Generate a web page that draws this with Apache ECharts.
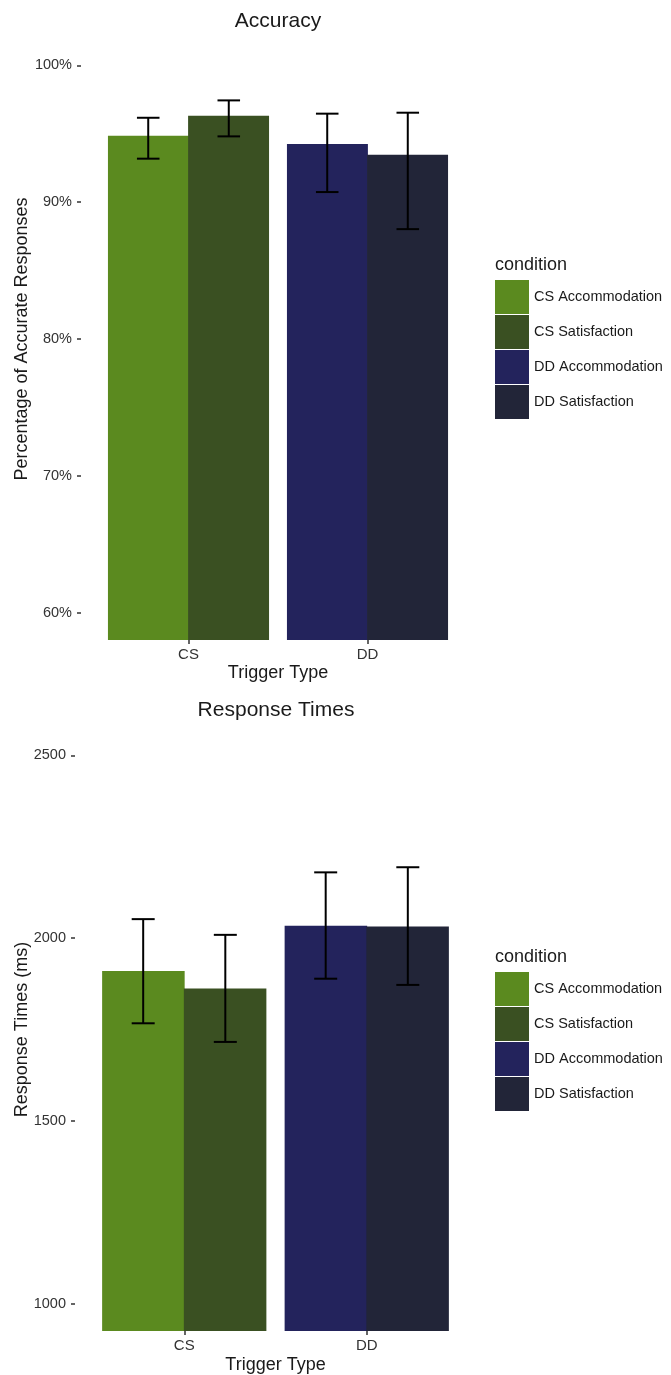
<!DOCTYPE html>
<html>
<head>
<meta charset="utf-8">
<script src="https://cdn.jsdelivr.net/npm/echarts@6/dist/echarts.min.js"></script>
<style>
html,body{margin:0;padding:0;background:#fff;}
#main{width:671px;height:1375px;}
</style>
</head>
<body>
<div id="main"></div>
<script>
const categories = ['CS', 'DD'];
const conditions = ['CS Accommodation', 'CS Satisfaction', 'DD Accommodation', 'DD Satisfaction'];
const conditionCategory = [0, 0, 1, 1];
const conditionSlot = [0, 1, 0, 1];
const colors = ['#5b8a1f', '#3a5022', '#23235c', '#222538'];

const accMean = [94.86, 96.32, 94.25, 93.47];
const accLow = [93.18, 94.81, 90.74, 88.03];
const accHigh = [96.17, 97.44, 96.47, 96.54];
const accTicks = [60, 70, 80, 90, 100];

const rtMean = [1910, 1862, 2034, 2032];
const rtLow = [1767, 1716, 1889, 1872];
const rtHigh = [2052, 2009, 2180, 2194];
const rtTicks = [1000, 1500, 2000, 2500];

const FONT = '"Liberation Sans", Arial, sans-serif';
const TXT = '#1a1a1a';

function barSeries(g, means) {
  return conditions.map((name, i) => ({
    type: 'bar',
    name: name,
    xAxisIndex: g,
    yAxisIndex: g,
    stack: 'g' + g + 's' + conditionSlot[i],
    barGap: '-1%',
    barCategoryGap: '10%',
    itemStyle: { color: colors[i] },
    emphasis: { disabled: true },
    data: categories.map((c, j) => (j === conditionCategory[i] ? means[i] : '-'))
  }));
}

function errSeries(g, low, high) {
  return {
    type: 'custom',
    name: 'err' + g,
    xAxisIndex: g,
    yAxisIndex: g,
    z: 10,
    silent: true,
    encode: { x: 0, y: [1, 2] },
    data: conditions.map((c, i) => [conditionCategory[i], low[i], high[i], conditionSlot[i]]),
    renderItem: function (params, api) {
      const lo = api.coord([api.value(0), api.value(1)]);
      const hi = api.coord([api.value(0), api.value(2)]);
      const band = api.size([1, 0])[0];
      const x = lo[0] + (api.value(3) === 0 ? -1 : 1) * band * 0.225;
      const hw = band * 0.063;
      const st = { stroke: '#000', lineWidth: 2, fill: null };
      return {
        type: 'group',
        children: [
          { type: 'line', shape: { x1: x, y1: lo[1], x2: x, y2: hi[1] }, style: st },
          { type: 'line', shape: { x1: x - hw, y1: hi[1], x2: x + hw, y2: hi[1] }, style: st },
          { type: 'line', shape: { x1: x - hw, y1: lo[1], x2: x + hw, y2: lo[1] }, style: st }
        ]
      };
    }
  };
}

function xAxis(g, nameGap) {
  return {
    type: 'category',
    gridIndex: g,
    data: categories,
    name: 'Trigger Type',
    nameLocation: 'middle',
    nameGap: nameGap,
    nameTextStyle: { fontFamily: FONT, fontSize: 18, color: TXT },
    axisLine: { show: false },
    axisTick: { show: true, alignWithLabel: true, length: 4, lineStyle: { color: '#333', width: 1.5 } },
    axisLabel: { margin: 7, fontFamily: FONT, fontSize: 15, color: '#333' },
    splitLine: { show: false }
  };
}

function yAxis(g, min, max, ticks, name, nameGap, fmt) {
  return {
    type: 'value',
    gridIndex: g,
    min: min,
    max: max,
    offset: 18,
    name: name,
    nameLocation: 'middle',
    nameGap: nameGap,
    nameMoveOverlap: false,
    nameTextStyle: { fontFamily: FONT, fontSize: 18, color: TXT },
    axisLine: { show: false },
    axisTick: { show: true, length: 4, customValues: ticks, lineStyle: { color: '#333', width: 1.5 } },
    axisLabel: { margin: 9, fontFamily: FONT, fontSize: 14.5, color: '#333', customValues: ticks, formatter: fmt },
    splitLine: { show: false }
  };
}

function legend(top) {
  return {
    orient: 'vertical',
    left: 495,
    top: top,
    padding: 0,
    itemWidth: 34,
    itemHeight: 34,
    itemGap: 1,
    icon: 'rect',
    selectedMode: false,
    itemStyle: { borderWidth: 0 },
    data: conditions,
    textStyle: { fontFamily: FONT, fontSize: 14.5, color: TXT }
  };
}

function titleText(text, left, top, size, align) {
  return {
    text: text, left: left, top: top, padding: 0, textAlign: align,
    textStyle: { fontFamily: FONT, fontSize: size, fontWeight: 'normal', color: TXT }
  };
}

const option = {
  animation: false,
  backgroundColor: '#fff',
  title: [
    titleText('Accuracy', 278, 11, 21, 'center'),
    titleText('Response Times', 276, 700, 21, 'center'),
    titleText('condition', 495, 256, 18, 'left'),
    titleText('condition', 495, 948, 18, 'left')
  ],
  legend: [legend(280), legend(972)],
  grid: [
    { left: 99, width: 358, top: 38, height: 602, outerBoundsMode: 'none', containLabel: false },
    { left: 93, width: 365, top: 728, height: 603, outerBoundsMode: 'none', containLabel: false }
  ],
  xAxis: [xAxis(0, 24), xAxis(1, 25)],
  yAxis: [
    yAxis(0, 58, 102, accTicks, 'Percentage of Accurate Responses', 50, '{value}%'),
    yAxis(1, 925, 2575, rtTicks, 'Response Times (ms)', 44, function (v) { return String(v); })
  ],
  series: [].concat(
    barSeries(0, accMean),
    [errSeries(0, accLow, accHigh)],
    barSeries(1, rtMean),
    [errSeries(1, rtLow, rtHigh)]
  )
};

const chart = echarts.init(document.getElementById('main'), null, { renderer: 'canvas' });
chart.setOption(option);
</script>
</body>
</html>
